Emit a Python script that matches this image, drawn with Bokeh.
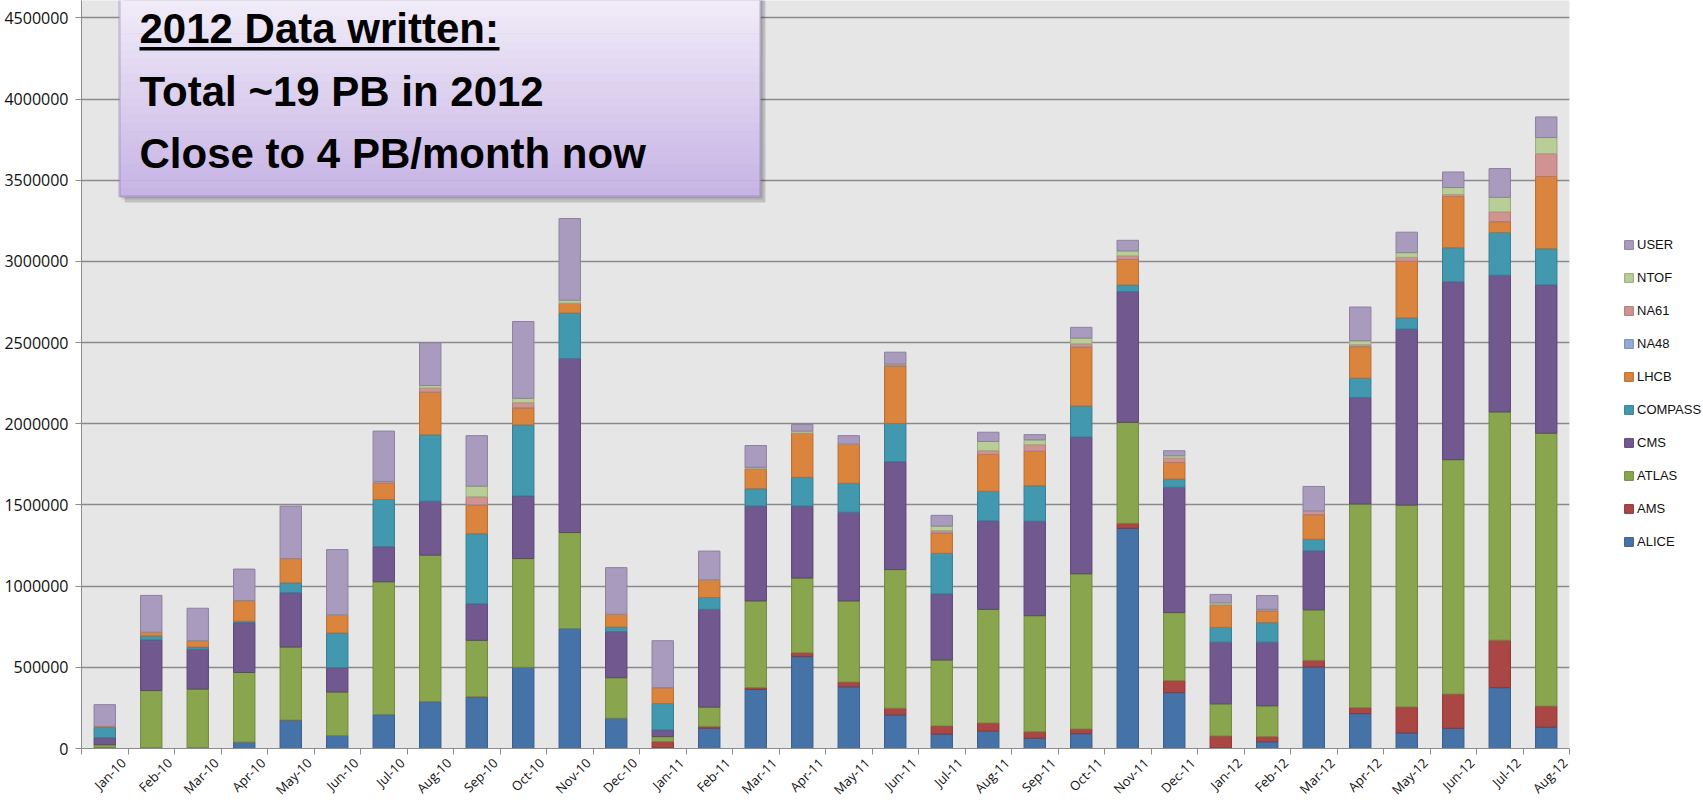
import math
from bokeh.plotting import figure
from bokeh.models import (ColumnDataSource, Range1d, FixedTicker, SingleIntervalTicker,
                          BasicTickFormatter, Legend, LegendItem, BoxAnnotation, Label)
from bokeh.embed import file_html
from bokeh.resources import INLINE

months = ["Jan-10", "Feb-10", "Mar-10", "Apr-10", "May-10", "Jun-10", "Jul-10", "Aug-10",
          "Sep-10", "Oct-10", "Nov-10", "Dec-10", "Jan-11", "Feb-11", "Mar-11", "Apr-11",
          "May-11", "Jun-11", "Jul-11", "Aug-11", "Sep-11", "Oct-11", "Nov-11", "Dec-11",
          "Jan-12", "Feb-12", "Mar-12", "Apr-12", "May-12", "Jun-12", "Jul-12", "Aug-12"]

ALICE = [5000, 5000, 5000, 39000, 175000, 80000, 209000, 289000, 318000, 500000, 739000, 186000,
         3000, 125000, 364000, 566000, 380000, 207000, 89000, 107000, 63000, 91000, 1356000, 344000,
         3000, 41000, 502000, 215000, 96000, 124000, 375000, 132000]
AMS = [0, 0, 0, 0, 0, 0, 0, 0, 0, 0, 0, 0,
       40000, 11000, 11000, 23000, 29000, 41000, 50000, 50000, 40000, 29000, 31000, 74000,
       74000, 33000, 41000, 36000, 160000, 211000, 292000, 129000]
ATLAS = [18000, 352000, 361000, 429000, 450000, 268000, 818000, 902000, 348000, 670000, 591000, 250000,
         30000, 119000, 534000, 461000, 500000, 854000, 406000, 700000, 715000, 956000, 622000, 419000,
         198000, 189000, 311000, 1255000, 1243000, 1444000, 1406000, 1681000]
CMS = [43000, 311000, 245000, 307000, 334000, 150000, 216000, 332000, 225000, 385000, 1072000, 284000,
       41000, 602000, 584000, 443000, 546000, 664000, 407000, 545000, 582000, 842000, 805000, 772000,
       380000, 392000, 363000, 656000, 1084000, 1095000, 842000, 913000]
COMPASS = [64000, 25000, 14000, 9000, 61000, 213000, 291000, 409000, 432000, 438000, 280000, 28000,
           163000, 73000, 107000, 177000, 179000, 236000, 250000, 182000, 218000, 191000, 41000, 50000,
           91000, 120000, 72000, 119000, 69000, 210000, 263000, 223000]
LHCB = [6000, 23000, 39000, 127000, 150000, 112000, 100000, 263000, 177000, 105000, 61000, 79000,
        98000, 109000, 123000, 273000, 241000, 355000, 125000, 227000, 213000, 364000, 158000, 103000,
        139000, 72000, 151000, 194000, 349000, 316000, 67000, 445000]
NA48 = [0] * 32
NA61 = [0, 0, 0, 0, 0, 0, 11000, 25000, 50000, 32000, 0, 0,
        0, 0, 0, 0, 0, 6000, 14000, 23000, 40000, 19000, 21000, 27000,
        0, 11000, 23000, 12000, 24000, 12000, 60000, 140000]
NTOF = [0, 0, 0, 0, 0, 0, 0, 16000, 66000, 27000, 18000, 0,
        0, 0, 9000, 12000, 0, 5000, 29000, 57000, 30000, 36000, 31000, 14000,
        12000, 0, 0, 24000, 29000, 43000, 90000, 100000]
USER = [134000, 227000, 200000, 194000, 323000, 402000, 310000, 262000, 311000, 473000, 503000, 287000,
        289000, 177000, 134000, 40000, 52000, 73000, 66000, 57000, 32000, 66000, 65000, 31000,
        52000, 84000, 151000, 208000, 126000, 96000, 177000, 127000]

series_names = ["ALICE", "AMS", "ATLAS", "CMS", "COMPASS", "LHCB", "NA48", "NA61", "NTOF", "USER"]
series_values = [ALICE, AMS, ATLAS, CMS, COMPASS, LHCB, NA48, NA61, NTOF, USER]
fill_colors = ["#4572A7", "#AA4643", "#89A54E", "#71588F", "#4198AF", "#DB843D",
               "#93A9CF", "#D19392", "#B9CD96", "#A99BBD"]
line_colors = ["#385d8a", "#8c3836", "#71893f", "#5c4776", "#357d91", "#b66d31",
               "#7a8cad", "#ae7a79", "#9aab7c", "#8c809e"]

data = {"x": list(range(len(months)))}
for n, v in zip(series_names, series_values):
    data[n] = v
source = ColumnDataSource(data)

# layout (pixels)
LEFT, TOP, FRAME_W, FRAME_H = 81, 0, 1488, 748
Y_TOP = 4607000
p = figure(frame_width=FRAME_W, frame_height=FRAME_H,
           min_border_left=LEFT, min_border_right=134, min_border_top=TOP, min_border_bottom=50,
           x_range=Range1d(-0.5, len(months) - 0.5), y_range=Range1d(0, Y_TOP),
           output_backend="svg", toolbar_location=None, title=None)

renderers = p.vbar_stack(series_names, x="x", width=0.46, source=source,
                         fill_color=fill_colors, line_color=line_colors, line_width=1)

p.background_fill_color = "#e6e6e6"
p.border_fill_color = "white"
p.outline_line_color = None
p.xgrid.grid_line_color = None
p.ygrid.grid_line_color = "#8a8a8a"
p.ygrid.grid_line_width = 1.5
p.ygrid.ticker = SingleIntervalTicker(interval=500000)

p.yaxis.ticker = SingleIntervalTicker(interval=500000)
p.yaxis.formatter = BasicTickFormatter(use_scientific=False)
p.yaxis.major_label_text_font = "Open Sans"
p.yaxis.major_label_text_font_size = "16px"
p.yaxis.major_label_text_color = "#111111"
p.yaxis.axis_line_color = "#8c8c8c"
p.yaxis.major_tick_line_color = "#8c8c8c"
p.yaxis.major_tick_out = 6
p.yaxis.major_tick_in = 0
p.yaxis.minor_tick_line_color = None
p.yaxis.major_label_standoff = 7

label_pos = [i + 0.4 for i in range(len(months))]
p.xaxis.ticker = FixedTicker(ticks=label_pos,
                             minor_ticks=[i - 0.5 for i in range(len(months) + 1)])
p.xaxis.major_label_overrides = {t: m for t, m in zip(label_pos, months)}
p.xaxis.major_label_orientation = math.pi / 4
p.xaxis.major_label_text_font = "Open Sans"
p.xaxis.major_label_text_font_size = "13px"
p.xaxis.major_label_text_color = "#111111"
p.xaxis.major_tick_line_color = None
p.xaxis.minor_tick_line_color = "#8c8c8c"
p.xaxis.minor_tick_out = 6
p.xaxis.minor_tick_in = 0
p.xaxis.axis_line_color = "#8c8c8c"
p.xaxis.major_label_standoff = 6

items = [LegendItem(label=n, renderers=[r]) for n, r in zip(series_names, renderers)][::-1]
legend = Legend(items=items, location=(54, 198), border_line_color=None,
                background_fill_alpha=0, padding=0, margin=0, spacing=16,
                glyph_width=11, glyph_height=11, label_height=17, label_standoff=3,
                label_text_font="Liberation Sans", label_text_font_size="13px",
                label_text_color="#111111")
p.add_layout(legend, "right")

# text box (positions in page pixels converted to plot coordinates)
def xd(px):
    return -0.5 + (px - LEFT) / (FRAME_W / len(months))

def yd(py):
    return (TOP + FRAME_H - py) / FRAME_H * Y_TOP

p.add_layout(BoxAnnotation(left=xd(124), right=xd(765), bottom=yd(202), top=yd(-20),
                           fill_color="#000000", fill_alpha=0.16, line_color=None))
p.add_layout(BoxAnnotation(left=xd(121), right=xd(763), bottom=yd(199), top=yd(-20),
                           fill_color="#000000", fill_alpha=0.10, line_color=None))
top_c = (0xF1, 0xEC, 0xF8)
bot_c = (0xC6, 0xB3, 0xE4)
N = 24
y0, y1 = 0.0, 196.0
for i in range(N):
    t = (i + 0.5) / N
    c = tuple(round(top_c[k] + (bot_c[k] - top_c[k]) * t) for k in range(3))
    a = y0 + (y1 - y0) * i / N
    b = y0 + (y1 - y0) * (i + 1) / N
    p.add_layout(BoxAnnotation(left=xd(119), right=xd(760), top=yd(a - (20 if i == 0 else 0)),
                               bottom=yd(b + 0.6),
                               fill_color="#%02x%02x%02x" % c, fill_alpha=1, line_color=None))
p.add_layout(BoxAnnotation(left=xd(119), right=xd(760), top=yd(-20), bottom=yd(196),
                           fill_alpha=0, line_color="#7e62a2", line_width=2.5))

SHIFT = 12
for txt, base in [("2012 Data written:", 40), ("Total ~19 PB in 2012", 103),
                  ("Close to 4 PB/month now", 165)]:
    p.add_layout(Label(x=xd(139), y=yd(base - SHIFT), text=txt, text_font="Liberation Sans",
                       text_font_style="bold", text_font_size="42px", text_color="black",
                       text_baseline="alphabetic", text_align="left"))
p.add_layout(BoxAnnotation(left=xd(139), right=xd(499), top=yd(46.5), bottom=yd(50),
                           fill_color="black", fill_alpha=1, line_color=None))

open("out.html", "w").write(file_html(p, INLINE))
